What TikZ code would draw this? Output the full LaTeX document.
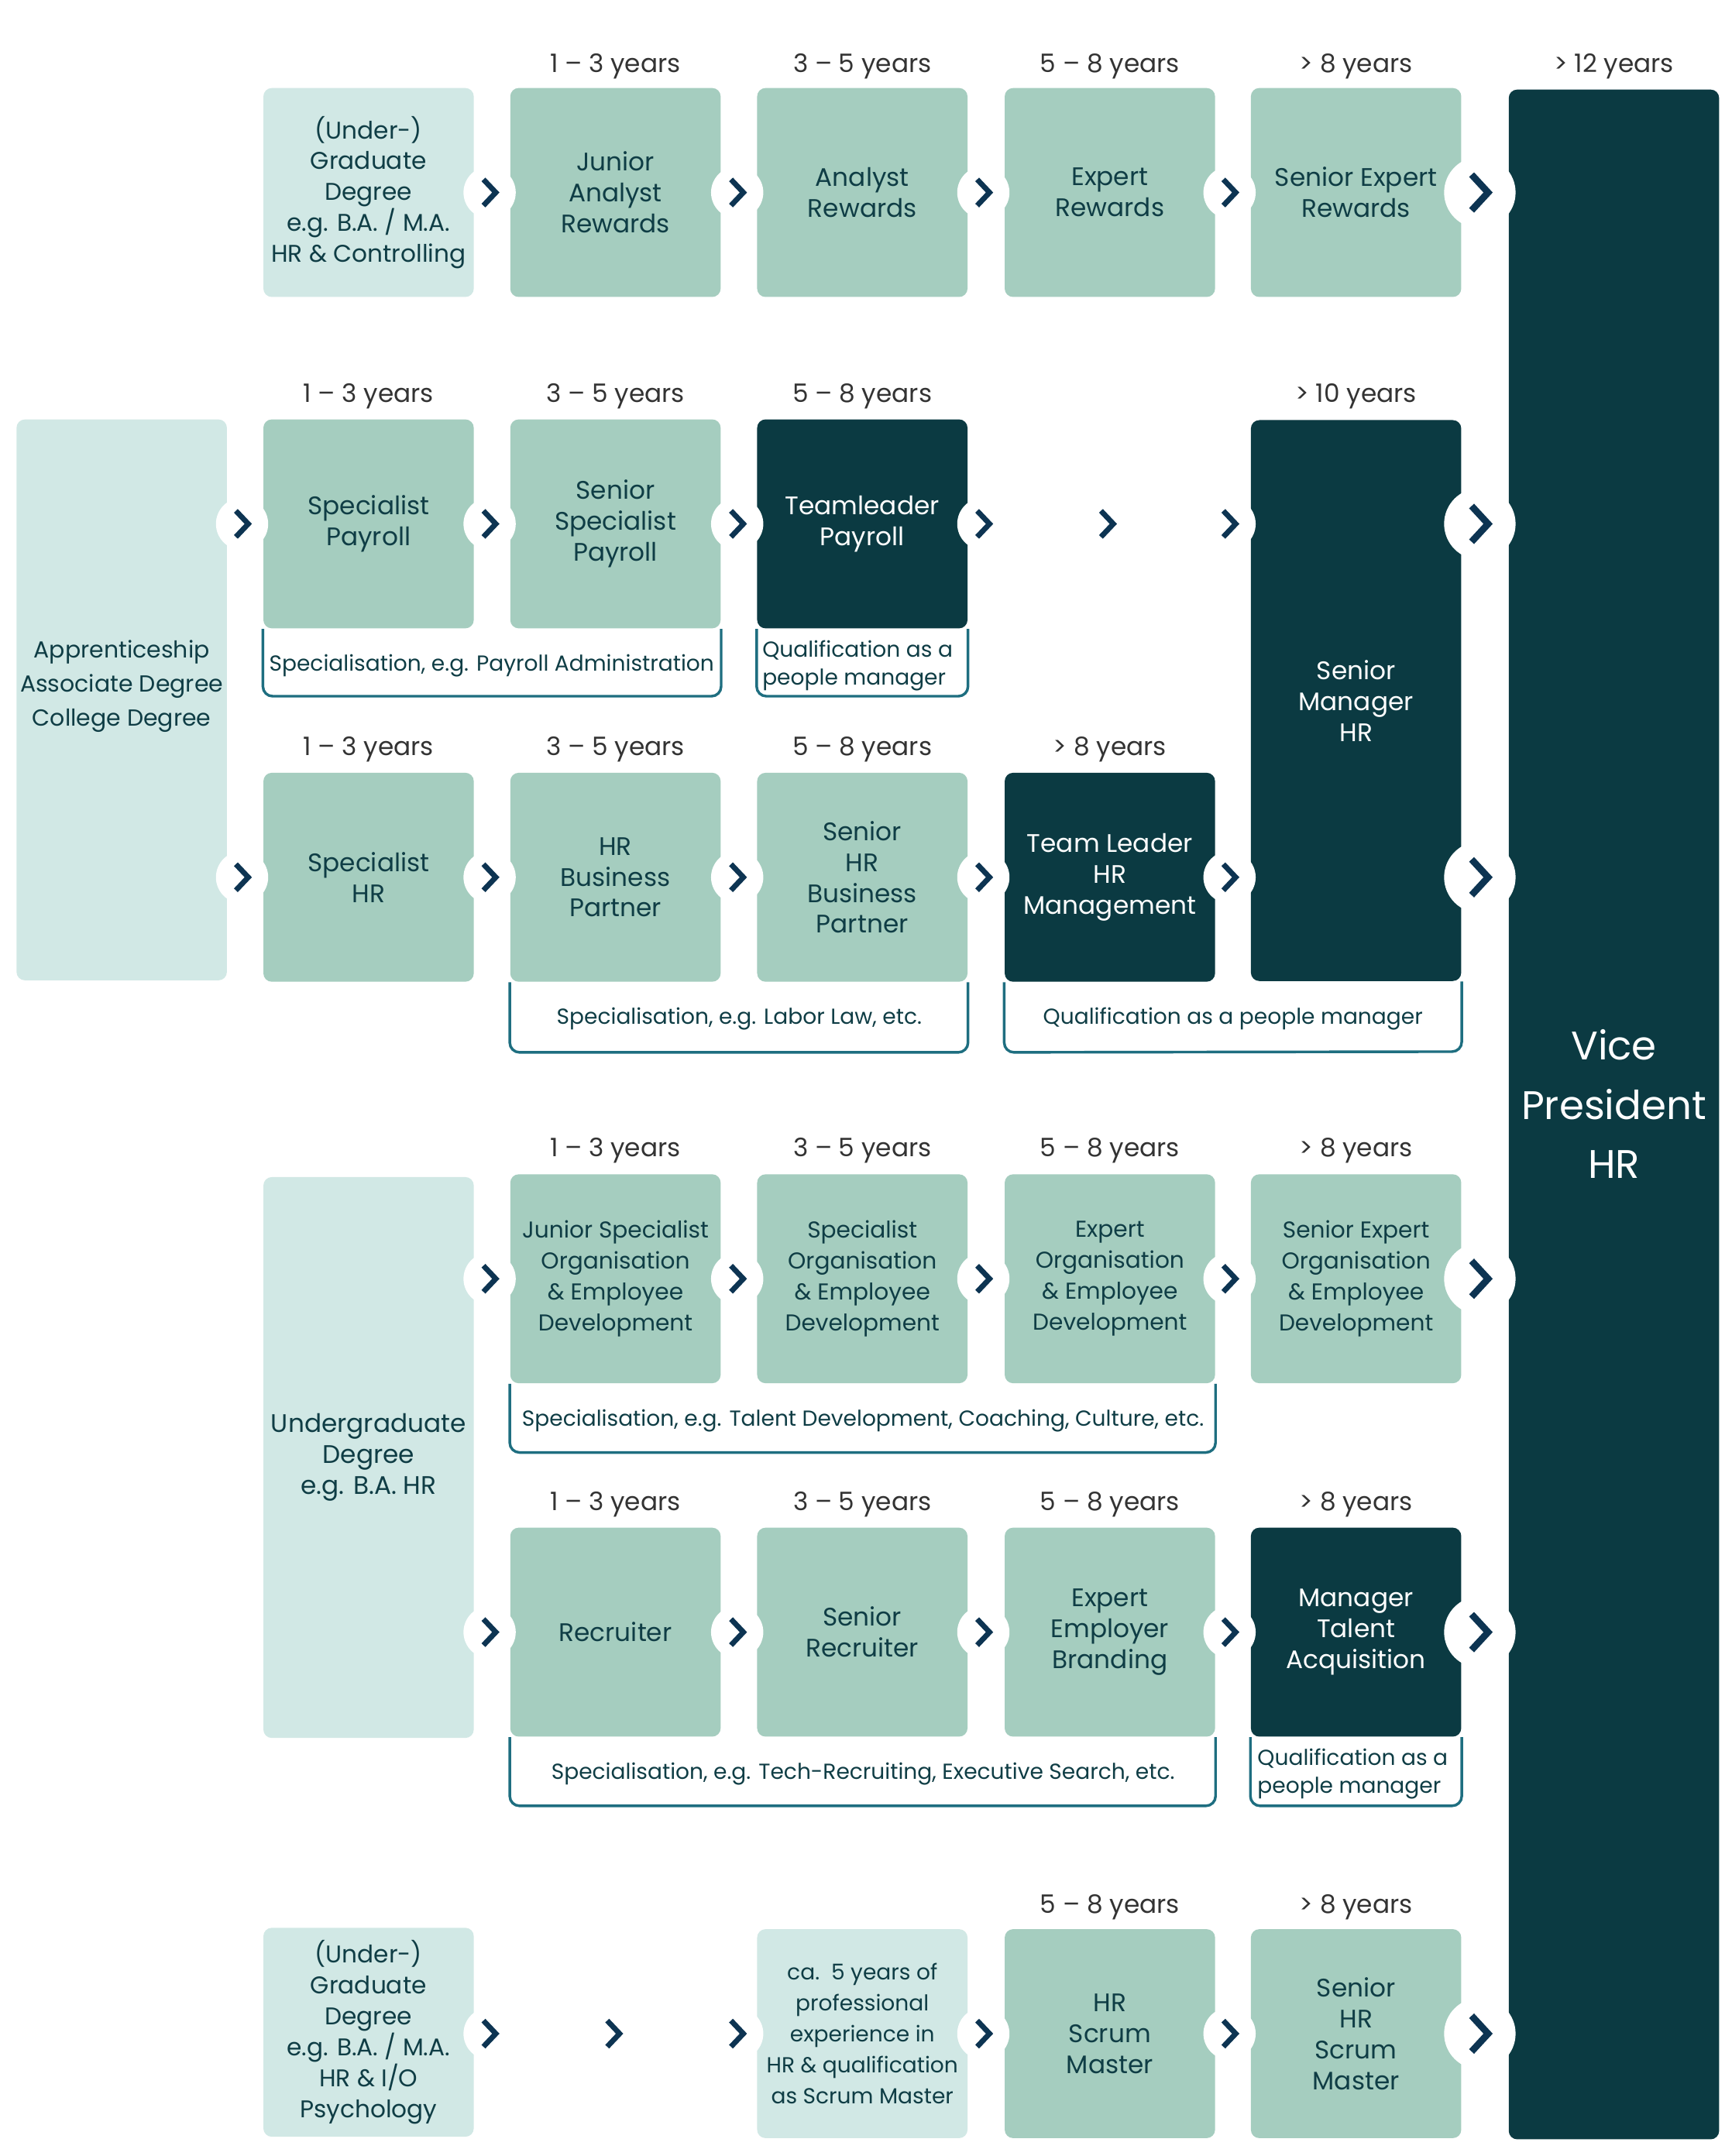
\documentclass[tikz,border=0pt]{standalone}
\usepackage{fontspec}
\setmainfont{Poppins}
\usetikzlibrary{calc}
\definecolor{pale}{HTML}{D1E8E5}
\definecolor{mid}{HTML}{A5CDBF}
\definecolor{dark}{HTML}{0B3A42}
\definecolor{txt}{HTML}{0F3D45}
\definecolor{yrc}{HTML}{333333}
\definecolor{chevc}{HTML}{0D3452}
\definecolor{specc}{HTML}{1E6E80}
\tikzset{
  box/.style={rounded corners=3.5pt, minimum width=3.06cm, minimum height=3.04cm, inner sep=0pt, align=center, text=txt, font=\fontsize{10.5}{12.8}\selectfont},
  palebox/.style={box, fill=pale},
  midbox/.style={box, fill=mid},
  darkbox/.style={box, fill=dark, text=white},
  tallbox/.style={minimum height=8.16cm},
  edutext/.style={font=\fontsize{10}{12.8}\selectfont},
  oetext/.style={font=\fontsize{9.5}{12.8}\selectfont},
  yr/.style={text=yrc, font=\fontsize{10.5}{12}\selectfont, inner sep=0pt},
  spec/.style={draw=specc, line width=1.1pt, rounded corners=4pt},
  spectext/.style={text=txt, font=\fontsize{9}{11.4}\selectfont, inner sep=0pt, align=left},
  chev/.pic={\fill[white] (0,0) circle[radius=0.38cm];
    \draw[chevc, line width=2.2pt, line join=miter] (-0.09cm,-0.19cm) -- (0.09cm,0) -- (-0.09cm,0.19cm);},
  chevfree/.pic={\draw[chevc, line width=2.2pt, line join=miter] (-0.09cm,-0.19cm) -- (0.09cm,0) -- (-0.09cm,0.19cm);},
  bigchev/.pic={\fill[white] (0,0) circle[radius=0.52cm];
    \draw[chevc, line width=2.8pt, line join=miter] (-0.12cm,-0.26cm) -- (0.12cm,0) -- (-0.12cm,0.26cm);},
}
\begin{document}
\begin{tikzpicture}[x=0.02cm, y=-0.02cm]
\useasboundingbox[fill=white] (0,0) rectangle (1259,1568);

% ---------- Row A : Rewards ----------
\node[palebox, edutext] (a1) at (268,140) {(Under-)\\Graduate\\Degree\\e.g. B.A. / M.A.\\HR \& Controlling};
\node[midbox] (a2) at (447.5,140) {Junior\\Analyst\\Rewards};
\node[midbox] (a3) at (627,140) {Analyst\\Rewards};
\node[midbox] (a4) at (807,140) {Expert\\Rewards};
\node[midbox] (a5) at (986,140) {Senior Expert\\Rewards};
\node[yr] (ya2) at (447.5,48) {1 – 3 years};
\node[yr] (ya3) at (627,48) {3 – 5 years};
\node[yr] (ya4) at (807,48) {5 – 8 years};
\node[yr] (ya5) at (986,48) {> 8 years};
\node[yr] (yvp) at (1173.5,48) {> 12 years};

% ---------- VP ----------
\node[darkbox, minimum height=29.82cm] (vp) at (1173.5,810.5) {};
\node[text=white, align=center, inner sep=0pt, font=\fontsize{16.5}{24.5}\selectfont] (vptext) at (1173.5,803) {Vice\\President\\HR};

% ---------- Row B / C : Apprenticeship ----------
\node[palebox, tallbox] (app) at (88.5,509) {};
\node[text=txt, align=center, inner sep=0pt, font=\fontsize{9.6}{14.2}\selectfont] (apptext) at (88.5,499) {Apprenticeship\\Associate Degree\\College Degree};
\node[midbox] (b1) at (268,381) {Specialist\\Payroll};
\node[midbox] (b2) at (447.5,381) {Senior\\Specialist\\Payroll};
\node[darkbox] (b3) at (627,381) {Teamleader\\Payroll};
\node[darkbox, tallbox] (smhr) at (986,509.5) {Senior\\Manager\\HR};
\node[yr] (yb1) at (268,288) {1 – 3 years};
\node[yr] (yb2) at (447.5,288) {3 – 5 years};
\node[yr] (yb3) at (627,288) {5 – 8 years};
\node[yr] (yb5) at (986,288) {> 10 years};

\node[midbox] (c1) at (268,638) {Specialist\\HR};
\node[midbox] (c2) at (447.5,638) {HR\\Business\\Partner};
\node[midbox] (c3) at (627,638) {Senior\\HR\\Business\\Partner};
\node[darkbox] (c4) at (807,638) {Team Leader\\HR\\Management};
\node[yr] (yc1) at (268,545) {1 – 3 years};
\node[yr] (yc2) at (447.5,545) {3 – 5 years};
\node[yr] (yc3) at (627,545) {5 – 8 years};
\node[yr] (yc4) at (807,545) {> 8 years};

% spec boxes rows B, C
\draw[spec] (b1.south west) -- ++(0,49) -- ($(b2.south east)+(0,49)$) -- (b2.south east);
\node[spectext] (sb) at (357.5,484) {Specialisation, e.g. Payroll Administration};
\draw[spec] (b3.south west) -- ++(0,49) -- ($(b3.south east)+(0,49)$) -- (b3.south east);
\node[spectext, anchor=west] (qb) at (554,484) {Qualification as a\\people manager};
\draw[spec] (c2.south west) -- ++(0,51) -- ($(c3.south east)+(0,51)$) -- (c3.south east);
\node[spectext] (sc) at (537.5,741) {Specialisation, e.g. Labor Law, etc.};
\draw[spec] (c4.south west) -- ++(0,51) -- ($(smhr.south east)+(0,51)$) -- (smhr.south east);
\node[spectext] (qc) at (896.5,741) {Qualification as a people manager};

% ---------- Row D / E : Undergraduate ----------
\node[palebox, tallbox] (ug) at (268,1060) {Undergraduate\\Degree\\e.g. B.A. HR};
\node[midbox, oetext] (d2) at (447.5,930) {Junior Specialist\\Organisation\\\& Employee\\Development};
\node[midbox, oetext] (d3) at (627,930) {Specialist\\Organisation\\\& Employee\\Development};
\node[midbox, oetext] (d4) at (807,930) {Expert\\Organisation\\\& Employee\\Development};
\node[midbox, oetext] (d5) at (986,930) {Senior Expert\\Organisation\\\& Employee\\Development};
\node[yr] (yd2) at (447.5,837) {1 – 3 years};
\node[yr] (yd3) at (627,837) {3 – 5 years};
\node[yr] (yd4) at (807,837) {5 – 8 years};
\node[yr] (yd5) at (986,837) {> 8 years};
\draw[spec] (d2.south west) -- ++(0,50) -- ($(d4.south east)+(0,50)$) -- (d4.south east);
\node[spectext] (sd) at (627.5,1033) {Specialisation, e.g. Talent Development, Coaching, Culture, etc.};

\node[midbox] (e2) at (447.5,1187) {Recruiter};
\node[midbox] (e3) at (627,1187) {Senior\\Recruiter};
\node[midbox] (e4) at (807,1187) {Expert\\Employer\\Branding};
\node[darkbox] (e5) at (986,1187) {Manager\\Talent\\Acquisition};
\node[yr] (ye2) at (447.5,1094) {1 – 3 years};
\node[yr] (ye3) at (627,1094) {3 – 5 years};
\node[yr] (ye4) at (807,1094) {5 – 8 years};
\node[yr] (ye5) at (986,1094) {> 8 years};
\draw[spec] (e2.south west) -- ++(0,50) -- ($(e4.south east)+(0,50)$) -- (e4.south east);
\node[spectext] (se) at (627.5,1290) {Specialisation, e.g. Tech-Recruiting, Executive Search, etc.};
\draw[spec] (e5.south west) -- ++(0,50) -- ($(e5.south east)+(0,50)$) -- (e5.south east);
\node[spectext, anchor=west] (qe) at (914,1290) {Qualification as a\\people manager};

% ---------- Row F : Scrum ----------
\node[palebox, edutext] (f1) at (268,1478) {(Under-)\\Graduate\\Degree\\e.g. B.A. / M.A.\\HR \& I/O\\Psychology};
\node[palebox, font=\fontsize{9}{12.8}\selectfont] (f3) at (627,1479) {ca.~~5 years of\\professional\\experience in\\HR \& qualification\\as Scrum Master};
\node[midbox] (f4) at (807,1479) {HR\\Scrum\\Master};
\node[midbox] (f5) at (986,1479) {Senior\\HR\\Scrum\\Master};
\node[yr] (yf4) at (807,1387) {5 – 8 years};
\node[yr] (yf5) at (986,1387) {> 8 years};

% ---------- chevrons ----------
\foreach \x in {356,536,715,894} \pic at (\x,140) {chev};
\pic at (1076,140) {bigchev};
\foreach \x in {176,356,536,715,894} \pic at (\x,381) {chev};
\pic at (805,381) {chevfree};
\pic at (1076,381) {bigchev};
\foreach \x in {176,356,536,715,894} \pic at (\x,638) {chev};
\pic at (1076,638) {bigchev};
\foreach \x in {356,536,715,894} \pic at (\x,930) {chev};
\pic at (1076,930) {bigchev};
\foreach \x in {356,536,715,894} \pic at (\x,1187) {chev};
\pic at (1076,1187) {bigchev};
\foreach \x in {356,536,715,894} \pic at (\x,1479) {chev};
\pic at (446,1479) {chevfree};
\pic at (1076,1479) {bigchev};
\end{tikzpicture}
\end{document}
